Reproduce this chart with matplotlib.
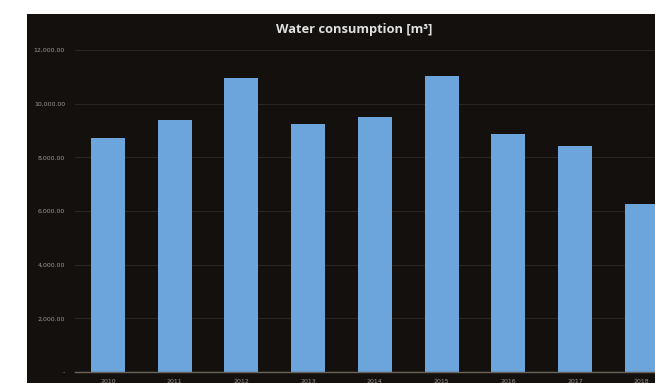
import matplotlib
matplotlib.use("Agg")
import matplotlib.pyplot as plt
from matplotlib.patches import Rectangle
from matplotlib.ticker import FuncFormatter

# yearly water consumption
years = ["2010", "2011", "2012", "2013", "2014", "2015", "2016", "2017", "2018"]
consumption = [8715, 9385, 10950, 9236, 9497, 11024, 8864, 8417, 6257]

bg = "#13100d"
bar_color = "#6ba5dc"
text_grey = "#9a9896"

fig = plt.figure(figsize=(6.55, 3.83), dpi=100)
fig.patch.set_facecolor("white")

# dark panel behind the chart
fig.patches.append(Rectangle((27 / 655, 0), 1, 1 - 14 / 383, transform=fig.transFigure,
                             facecolor=bg, edgecolor="none", zorder=-5))

ax = fig.add_axes([74.7 / 655, 1 - 372 / 383, 600.3 / 655, 322 / 383])
ax.set_facecolor(bg)

x = range(len(years))
ax.bar(x, consumption, width=0.51, color=bar_color, edgecolor="none", zorder=3)

ax.set_xlim(-0.5, len(years) - 0.5)
ax.set_ylim(0, 12000)
ax.set_yticks(range(0, 12001, 2000))
ax.yaxis.set_major_formatter(FuncFormatter(lambda v, p: "-" if v == 0 else f"{v:,.2f}"))
ax.set_xticks(list(x))
ax.set_xticklabels(years)

ax.grid(axis="y", color="#2a2521", linewidth=0.8, zorder=0)
ax.tick_params(axis="y", length=0, pad=7, labelsize=4.5, labelcolor=text_grey)
ax.tick_params(axis="x", length=0, pad=5, labelsize=4.5, labelcolor=text_grey)

for side in ["top", "right", "left"]:
    ax.spines[side].set_visible(False)
ax.spines["bottom"].set_color("#6b635b")
ax.spines["bottom"].set_linewidth(1.0)
ax.spines["bottom"].set_zorder(4)

fig.text(354 / 655, 1 - 30 / 383, "Water consumption [m³]", ha="center", va="center",
         color="#e0e0e0", fontsize=9.3, fontweight="bold", family=["Open Sans", "DejaVu Sans"])

fig.savefig("out.png", dpi=100, facecolor=fig.get_facecolor())
